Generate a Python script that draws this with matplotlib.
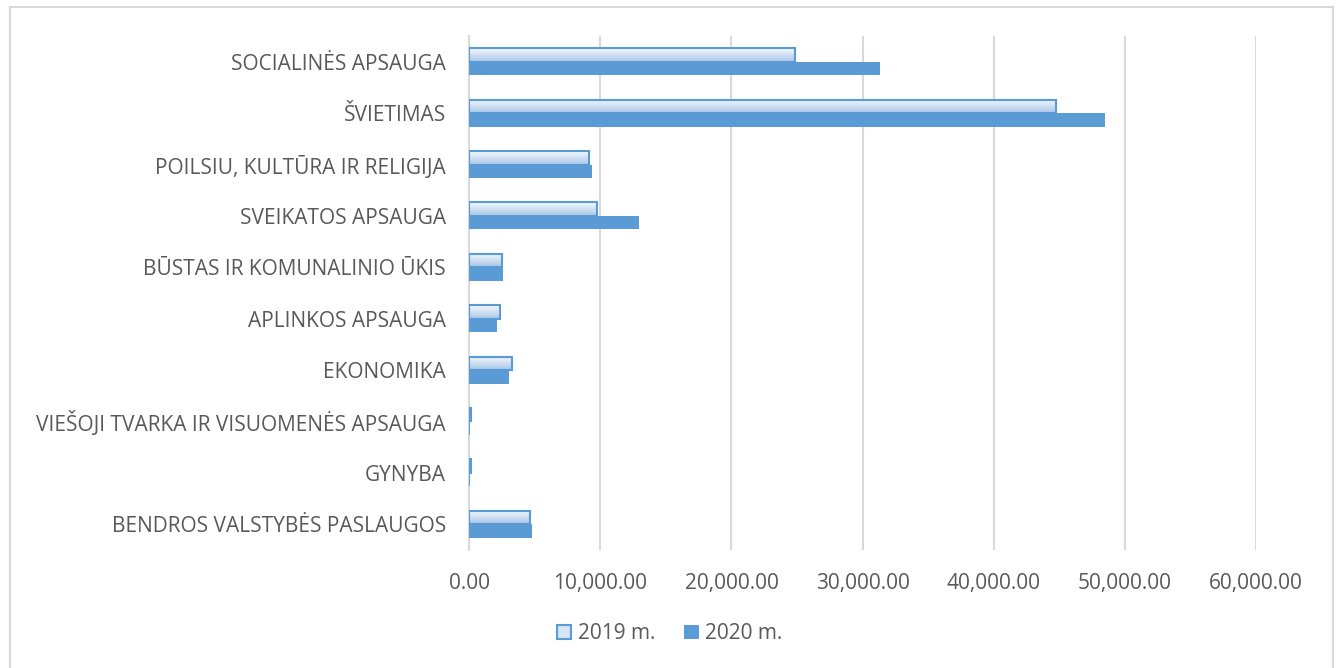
import numpy as np
import matplotlib.pyplot as plt
from matplotlib.colors import LinearSegmentedColormap
from matplotlib.patches import Rectangle
from matplotlib.ticker import FuncFormatter

categories = ['SOCIALINĖS APSAUGA', 'ŠVIETIMAS', 'POILSIU, KULTŪRA IR RELIGIJA',
              'SVEIKATOS APSAUGA', 'BŪSTAS IR KOMUNALINIO ŪKIS', 'APLINKOS APSAUGA',
              'EKONOMIKA', 'VIEŠOJI TVARKA IR VISUOMENĖS APSAUGA', 'GYNYBA',
              'BENDROS VALSTYBĖS PASLAUGOS']
v2019 = [24870, 44770, 9110, 9750, 2460, 2330, 3220, 110, 90, 4620]
v2020 = [31330, 48510, 9340, 12940, 2530, 2100, 3000, 60, 50, 4790]
series = ['2019 m.', '2020 m.']

plt.rcParams['font.family'] = ['Open Sans', 'DejaVu Sans']
blue = '#5B9BD5'
txt = '#595959'
grid = '#D9D9D9'
grad_cmap = LinearSegmentedColormap.from_list('g', ['#F4F8FC', '#A9C6E8'])

fig = plt.figure(figsize=(13.39, 6.68), dpi=100)
ax = fig.add_axes([0.3506, 0.177, 0.5871, 0.7687])

y = np.arange(len(categories))
h = 0.263
b19 = ax.barh(y - h / 2, v2019, height=h, facecolor='none', edgecolor=blue,
              linewidth=1.5, zorder=4, label=series[0])
b20 = ax.barh(y + h / 2, v2020, height=h, color=blue, zorder=3, label=series[1])

# gradient fill for 2019 bars
grad = np.linspace(0, 1, 64).reshape(-1, 1)
for p in b19:
    x0, y0 = p.get_x(), p.get_y()
    im = ax.imshow(grad, cmap=grad_cmap, aspect='auto', origin='lower',
                   extent=[x0, x0 + p.get_width(), y0, y0 + p.get_height()],
                   zorder=3.5, interpolation='bilinear')
    im.set_clip_path(p)

ax.set_xlim(0, 60000)
ax.set_ylim(len(categories) - 0.5, -0.5)
ax.set_xticks(np.arange(0, 60001, 10000))
ax.xaxis.set_major_formatter(FuncFormatter(lambda v, pos: f'{v:,.2f}'))
ax.set_yticks(y)
ax.set_yticklabels(categories)
ax.tick_params(length=0, labelsize=15, colors=txt)
ax.tick_params(axis='y', pad=17)
ax.tick_params(axis='x', pad=17)
ax.grid(axis='x', color=grid, linewidth=1.5, zorder=0)
ax.set_axisbelow(True)
for s in ['top', 'right', 'bottom']:
    ax.spines[s].set_visible(False)
ax.spines['left'].set_color(grid)
ax.spines['left'].set_linewidth(1.5)

h19 = Rectangle((0, 0), 1, 1, facecolor='#D6E4F4', edgecolor=blue, linewidth=1.5)
h20 = Rectangle((0, 0), 1, 1, facecolor=blue)
fig.legend([h19, h20], series, loc='center', bbox_to_anchor=(0.5, 0.051), ncol=2,
           frameon=False, fontsize=15, labelcolor=txt, handlelength=0.7,
           handleheight=0.7, handletextpad=0.3, columnspacing=1.4)

fig.add_artist(Rectangle((0.0075, -0.01), 0.988, 0.9995, transform=fig.transFigure,
                         facecolor='none', edgecolor=grid, linewidth=1.5))

fig.savefig('out.png', dpi=100)
